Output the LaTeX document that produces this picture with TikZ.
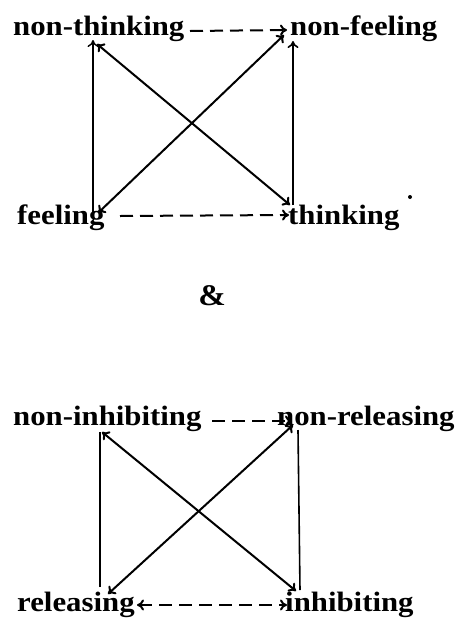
\documentclass[tikz,border=0pt]{standalone}
\usepackage{fontspec}
\setmainfont{Liberation Serif}[FakeStretch=1.1]
\usetikzlibrary{arrows.meta}
\begin{document}
\begin{tikzpicture}[x=1pt,y=-1pt,
  lbl/.style={anchor=base west,inner sep=0pt,font=\fontsize{28}{32}\selectfont\bfseries},
  conn/.style={line width=2pt,-{To[length=7pt,width=11pt]}},
  dconn/.style={line width=2pt,{To[length=7pt,width=11pt]}-{To[length=7pt,width=11pt]}},
  dsh/.style={dash pattern=on 13pt off 7pt}]
\useasboundingbox (0,0) rectangle (462,619);
% ---------- top square
\node[lbl] (nt) at (13,35) {non-thinking};
\node[lbl] (nf) at (290,35) {non-feeling};
\node[lbl] (fe) at (17,224) {feeling};
\node[lbl] (th) at (288,224) {thinking};
\coordinate (ntR) at (190,31);
\coordinate (nfL) at (287,30);
\coordinate (ntB) at (93,40);
\coordinate (feT) at (93,212);
\coordinate (nfB) at (293,41);
\coordinate (thT) at (293,205);
\coordinate (ntD) at (97,44);
\coordinate (thD) at (290,205);
\coordinate (feD) at (98,213);
\coordinate (nfD) at (284,35);
\coordinate (feR) at (120,216);
\coordinate (thL) at (289,215);
\draw[conn,dsh] (ntR) -- (nfL);
\draw[conn,line width=1.4pt] (feT) -- (ntB);
\draw[conn,line width=1.6pt] (thT) -- (nfB);
\draw[dconn] (ntD) -- (thD);
\draw[dconn] (feD) -- (nfD);
\draw[conn,dsh] (feR) -- (thL);
\fill (410,197) circle (2pt);
% ---------- ampersand
\node[lbl,anchor=center,font=\fontsize{30}{34}\selectfont\bfseries] (amp) at (212,296) {\&};
% ---------- bottom square
\node[lbl] (ni) at (13,425) {non-inhibiting};
\node[lbl] (nr) at (277,425) {non-releasing};
\node[lbl] (re) at (17,611) {releasing};
\node[lbl] (in) at (285,611) {inhibiting};
\coordinate (niR) at (212,421);
\coordinate (nrL) at (292,421);
\coordinate (niB) at (100,432);
\coordinate (reT) at (100,587);
\coordinate (nrB) at (298,430);
\coordinate (inT) at (300,590);
\coordinate (niD) at (102,432);
\coordinate (inD) at (296,591);
\coordinate (reD) at (108,594);
\coordinate (nrD) at (293,425);
\coordinate (reR) at (137,605);
\coordinate (inL) at (287,605);
\draw[conn,dsh] (niR) -- (nrL);
\draw[line width=1.6pt] (reT) -- (niB);
\draw[line width=1.6pt] (nrB) -- (inT);
\draw[dconn] (niD) -- (inD);
\draw[dconn] (reD) -- (nrD);
\draw[dconn,dsh] (reR) -- (inL);
\end{tikzpicture}
\end{document}
